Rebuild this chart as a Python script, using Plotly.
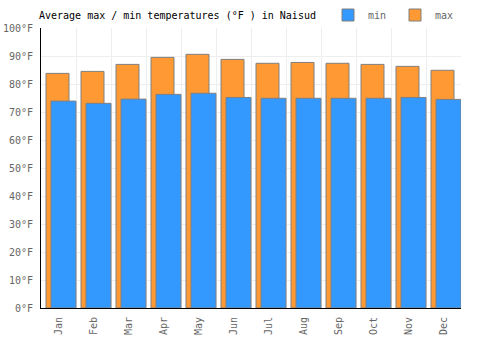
import plotly.graph_objects as go

months = ["Jan", "Feb", "Mar", "Apr", "May", "Jun", "Jul", "Aug", "Sep", "Oct", "Nov", "Dec"]
max_temps = [83.8, 84.5, 87.0, 89.5, 90.6, 88.8, 87.4, 87.7, 87.4, 87.0, 86.3, 84.9]
min_temps = [73.9, 73.1, 74.6, 76.3, 76.7, 75.2, 74.9, 74.9, 74.9, 74.9, 75.2, 74.5]
y_ticks = [0, 10, 20, 30, 40, 50, 60, 70, 80, 90, 100]

xpos = list(range(len(months)))
font = "DejaVu Sans Mono"

fig = go.Figure()
fig.add_trace(go.Bar(
    x=xpos, y=max_temps, name="max",
    marker=dict(color="#FF9933", line=dict(color="#808080", width=1)),
    width=[0.657] * 12, offset=[-0.357] * 12,
))
fig.add_trace(go.Bar(
    x=xpos, y=min_temps, name="min",
    marker=dict(color="#3399FF", line=dict(color="#808080", width=1)),
    width=[0.714] * 12, offset=[-0.214] * 12,
))

fig.update_layout(
    width=500, height=350,
    barmode="overlay",
    plot_bgcolor="white", paper_bgcolor="white",
    margin=dict(l=41, r=39, t=28, b=42, autoexpand=False),
    title=dict(text="Average max / min temperatures (°F ) in Naisud",
               x=39 / 500, xanchor="left", y=1 - 15 / 350, yanchor="middle",
               font=dict(family=font, size=10, color="black")),
    legend=dict(orientation="h", traceorder="reversed",
                x=462 / 500, xanchor="right", y=1 - 15 / 350, yanchor="middle",
                yref="container", xref="container",
                font=dict(family=font, size=10, color="#666666"),
                entrywidth=22, entrywidthmode="pixels",
                tracegroupgap=0, bgcolor="rgba(0,0,0,0)"),
    showlegend=True,
)
fig.update_xaxes(
    range=[-0.5, 11.5], tickvals=xpos, ticktext=months, tickangle=-90,
    showgrid=False, showline=True, linecolor="black", linewidth=1,
    ticks="", tickfont=dict(family=font, size=10, color="#666666"),
    ticklabelstandoff=4,
    minor=dict(tick0=0.5, dtick=1, showgrid=True, gridcolor="#eeeeee", gridwidth=1),
    zeroline=False, fixedrange=True,
)
fig.update_yaxes(
    range=[0, 100], tickvals=y_ticks, ticktext=[f"{v}°F" for v in y_ticks],
    showgrid=True, gridcolor="#eeeeee", gridwidth=1,
    showline=True, linecolor="black", linewidth=1,
    ticks="", tickfont=dict(family=font, size=10, color="#666666"),
    ticklabelstandoff=5,
    zeroline=False, fixedrange=True,
)

fig.write_html("out.html")
